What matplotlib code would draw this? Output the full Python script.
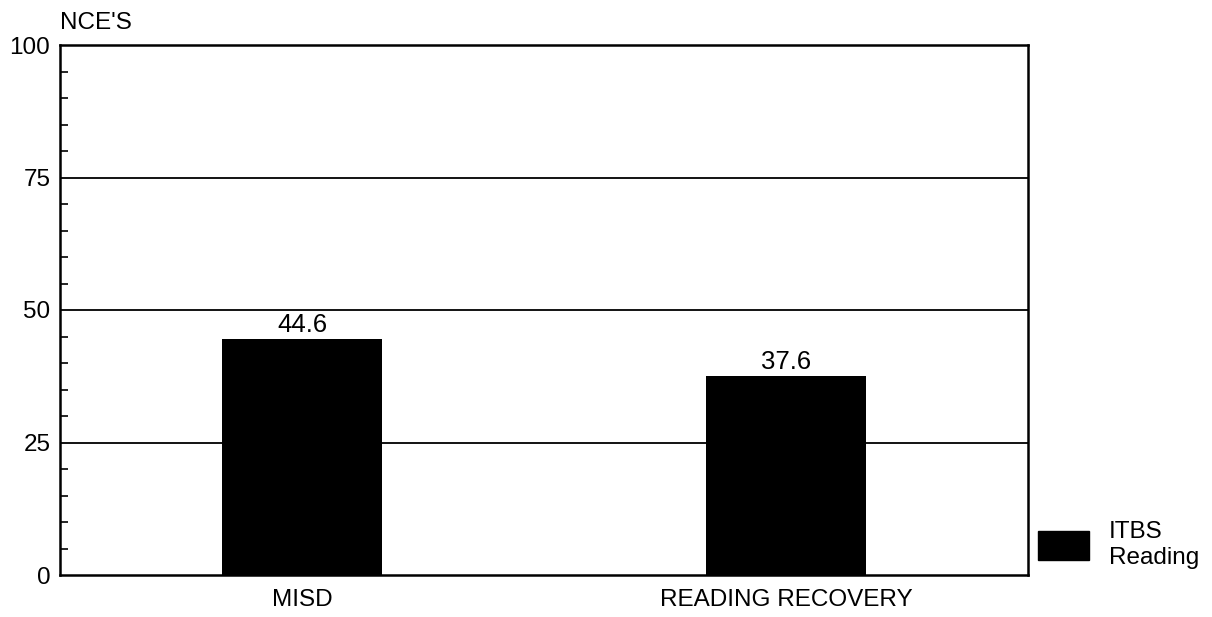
import matplotlib
matplotlib.use("Agg")
import matplotlib.pyplot as plt
from matplotlib.ticker import MultipleLocator
from matplotlib.patches import Patch

categories = ["MISD", "READING RECOVERY"]
values = [44.6, 37.6]
value_labels = ["44.6", "37.6"]
series_name = "ITBS\nReading"
y_ticks = [0, 25, 50, 75, 100]

plt.rcParams['font.family'] = ['Liberation Sans', 'DejaVu Sans']

fig = plt.figure(figsize=(12.12, 6.17), dpi=100)
ax = fig.add_axes([60/1212, 42/617, (1028-60)/1212, (575-45)/617])

x = list(range(len(categories)))
bars = ax.bar(x, values, width=0.33, color="black", zorder=3)
for xi, v, lab in zip(x, values, value_labels):
    ax.text(xi, v + 0.4, lab, ha="center", va="bottom", fontsize=18.5, zorder=4)

ax.set_xlim(-0.5, 1.5)
ax.set_ylim(0, 100)
ax.set_yticks(y_ticks)
ax.yaxis.set_minor_locator(MultipleLocator(5))
ax.tick_params(axis='y', which='major', direction='in', length=0, labelsize=17.5, pad=7)
ax.tick_params(axis='y', which='minor', direction='in', length=6, width=1.2)
ax.set_xticks(x)
ax.set_xticklabels(categories, fontsize=17.5)
ax.tick_params(axis='x', length=0, pad=10)

for yv in y_ticks[1:-1]:
    ax.axhline(yv, color="black", linewidth=1.3, zorder=1)

for s in ax.spines.values():
    s.set_linewidth(1.8)

ax.text(0, 1.02, "NCE'S", transform=ax.transAxes, ha="left", va="bottom", fontsize=17.5)

handle = Patch(facecolor="black", edgecolor="black")
fig.legend([handle], [series_name], loc="lower left",
           bbox_to_anchor=(1019/1212, (617-588)/617), frameon=False,
           fontsize=17.5, handlelength=2.1, handleheight=1.45, handletextpad=0.8,
           borderpad=0.3, labelspacing=0.2)

fig.savefig("out.png", dpi=100)
